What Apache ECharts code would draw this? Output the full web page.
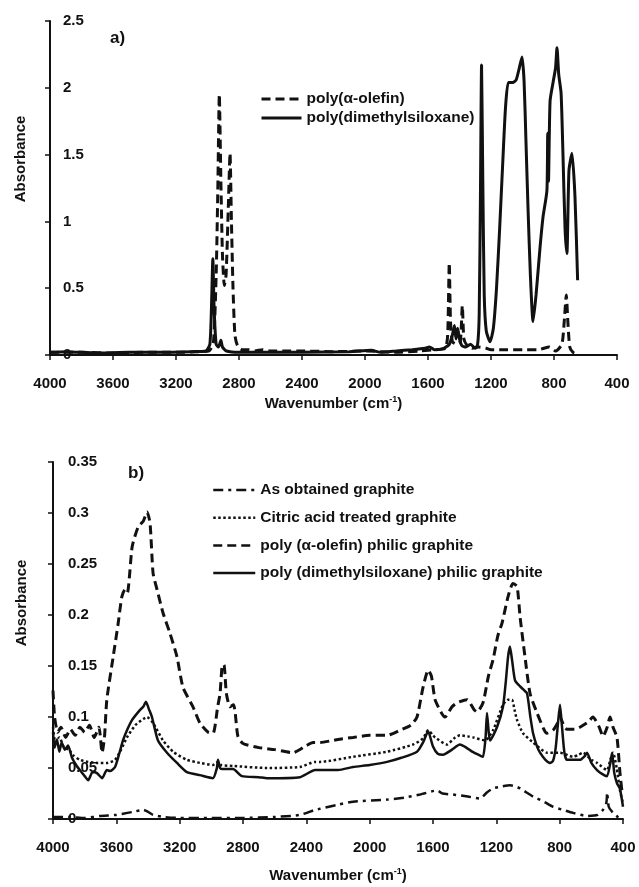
<!DOCTYPE html>
<html>
<head>
<meta charset="utf-8">
<script src="https://cdn.jsdelivr.net/npm/echarts@6/dist/echarts.min.js"></script>
<style>
  html, body { margin: 0; padding: 0; background: #fff; }
  #main { width: 639px; height: 887px; }
</style>
</head>
<body>
<div id="main"></div>
<script>
// panel a) pure oils, [wavenumber, absorbance]
var paoA = [
  [4000, 0.02], [3800, 0.02], [3600, 0.015], [3400, 0.02], [3200, 0.02], [3050, 0.025], [2990, 0.03],
  [2962, 0.1], [2945, 0.6], [2935, 1.2], [2925, 1.95], [2915, 1.3], [2905, 0.75], [2893, 0.52],
  [2882, 0.6], [2868, 1.1], [2857, 1.51], [2848, 1.0], [2838, 0.5], [2826, 0.15], [2810, 0.07],
  [2780, 0.04], [2740, 0.04], [2700, 0.03], [2650, 0.04], [2600, 0.03], [2500, 0.03], [2400, 0.03],
  [2200, 0.025], [2000, 0.03], [1800, 0.02], [1650, 0.03], [1550, 0.04], [1490, 0.05], [1475, 0.15],
  [1465, 0.69], [1457, 0.25], [1445, 0.1], [1420, 0.08], [1395, 0.1], [1382, 0.37], [1372, 0.12],
  [1350, 0.07], [1320, 0.05], [1280, 0.06], [1230, 0.05], [1200, 0.04], [1100, 0.04], [1000, 0.04],
  [900, 0.04], [830, 0.06], [790, 0.03], [750, 0.08], [735, 0.25], [722, 0.45], [712, 0.25],
  [700, 0.06], [680, 0.02], [660, 0.01]
];
var pdmsA = [
  [4000, 0.02], [3900, 0.025], [3700, 0.015], [3500, 0.02], [3300, 0.02], [3100, 0.025], [3010, 0.03],
  [2985, 0.08], [2975, 0.35], [2966, 0.72], [2958, 0.35], [2945, 0.08], [2930, 0.06], [2915, 0.11],
  [2905, 0.06], [2880, 0.03], [2800, 0.02], [2600, 0.02], [2400, 0.02], [2100, 0.025], [1960, 0.035],
  [1900, 0.02], [1800, 0.03], [1700, 0.04], [1620, 0.05], [1590, 0.06], [1560, 0.04], [1500, 0.05],
  [1465, 0.08], [1445, 0.15], [1432, 0.22], [1422, 0.12], [1412, 0.2], [1400, 0.12], [1385, 0.07],
  [1360, 0.06], [1330, 0.08], [1300, 0.05], [1285, 0.08], [1275, 0.3], [1267, 1.2], [1260, 2.17],
  [1252, 1.3], [1243, 0.45], [1230, 0.18], [1206, 0.1], [1185, 0.2], [1165, 0.5], [1145, 0.95],
  [1125, 1.45], [1108, 1.85], [1090, 2.04], [1060, 2.04], [1040, 2.06], [1020, 2.15], [1003, 2.23],
  [990, 2.05], [978, 1.6], [965, 1.1], [950, 0.6], [933, 0.25], [914, 0.45], [889, 0.8], [870, 1.03],
  [845, 1.23], [840, 1.66], [835, 1.3], [825, 1.9], [806, 2.04], [790, 2.15], [781, 2.3], [770, 2.1],
  [755, 1.96], [743, 1.5], [730, 0.95], [718, 0.76], [705, 1.38], [686, 1.51], [667, 1.19], [650, 0.56]
];

// panel b) graphite samples
var rawB = [
  [4000, 0.002], [3900, 0.002], [3800, 0.001], [3700, 0.003], [3600, 0.004], [3530, 0.006],
  [3494, 0.007], [3431, 0.009], [3400, 0.007], [3368, 0.004], [3300, 0.002], [3200, 0.001],
  [3000, 0.001], [2800, 0.001], [2600, 0.002], [2440, 0.004], [2345, 0.009], [2314, 0.01],
  [2200, 0.014], [2105, 0.017], [1890, 0.019], [1780, 0.021], [1682, 0.024], [1610, 0.027],
  [1575, 0.028], [1540, 0.025], [1474, 0.024], [1380, 0.022], [1303, 0.02], [1260, 0.026],
  [1221, 0.03], [1160, 0.032], [1114, 0.033], [1080, 0.032], [1050, 0.03], [968, 0.022],
  [900, 0.017], [842, 0.012], [780, 0.009], [716, 0.006], [627, 0.003], [560, 0.004], [526, 0.009],
  [505, 0.016], [500, 0.026], [490, 0.012], [463, 0.006], [440, 0.003], [419, 0.0], [400, 0.0]
];
var citB = [
  [4000, 0.09], [3985, 0.075], [3960, 0.08], [3930, 0.07], [3900, 0.068], [3870, 0.062], [3830, 0.058],
  [3780, 0.056], [3722, 0.055], [3660, 0.055], [3608, 0.058], [3570, 0.068], [3533, 0.08], [3480, 0.092],
  [3430, 0.098], [3406, 0.1], [3368, 0.094], [3305, 0.077], [3242, 0.066], [3154, 0.058], [3072, 0.055],
  [2990, 0.053], [2958, 0.056], [2940, 0.053], [2863, 0.052], [2648, 0.05], [2440, 0.051], [2345, 0.056],
  [2314, 0.056], [2105, 0.061], [1890, 0.066], [1726, 0.073], [1663, 0.079], [1631, 0.087], [1600, 0.082],
  [1587, 0.08], [1512, 0.073], [1460, 0.08], [1430, 0.082], [1380, 0.081], [1347, 0.08], [1271, 0.077],
  [1221, 0.087], [1158, 0.112], [1126, 0.117], [1101, 0.117], [1085, 0.107], [1069, 0.097], [1031, 0.084],
  [968, 0.075], [880, 0.065], [798, 0.065], [716, 0.061], [680, 0.063], [653, 0.065], [600, 0.058],
  [564, 0.055], [501, 0.048], [480, 0.058], [463, 0.065], [440, 0.05], [419, 0.028], [400, 0.015]
];
var paoB = [
  [4000, 0.126], [3990, 0.1], [3970, 0.085], [3950, 0.09], [3920, 0.08], [3890, 0.088], [3860, 0.082],
  [3830, 0.09], [3800, 0.085], [3770, 0.092], [3740, 0.08], [3710, 0.09], [3690, 0.065], [3675, 0.08],
  [3660, 0.117], [3620, 0.159], [3590, 0.19], [3565, 0.218], [3545, 0.225], [3530, 0.222], [3500, 0.267],
  [3463, 0.286], [3430, 0.292], [3406, 0.301], [3387, 0.29], [3368, 0.241], [3343, 0.225], [3305, 0.202],
  [3261, 0.182], [3217, 0.159], [3179, 0.129], [3116, 0.11], [3072, 0.094], [3020, 0.085], [2989, 0.084],
  [2960, 0.11], [2945, 0.123], [2930, 0.151], [2920, 0.151], [2905, 0.123], [2882, 0.11], [2860, 0.112],
  [2850, 0.105], [2832, 0.081], [2800, 0.074], [2700, 0.07], [2600, 0.068], [2484, 0.065], [2400, 0.072],
  [2358, 0.075], [2314, 0.075], [2200, 0.078], [2105, 0.08], [2000, 0.082], [1890, 0.082], [1808, 0.087],
  [1740, 0.092], [1701, 0.1], [1663, 0.129], [1630, 0.146], [1610, 0.14], [1587, 0.117], [1550, 0.105],
  [1524, 0.1], [1480, 0.11], [1448, 0.114], [1385, 0.117], [1340, 0.107], [1322, 0.105], [1284, 0.114],
  [1250, 0.14], [1221, 0.156], [1190, 0.18], [1164, 0.192], [1126, 0.218], [1095, 0.231], [1069, 0.228],
  [1050, 0.198], [1019, 0.159], [987, 0.123], [943, 0.104], [900, 0.088], [880, 0.084], [842, 0.087],
  [810, 0.095], [798, 0.1], [770, 0.09], [754, 0.088], [700, 0.088], [672, 0.09], [620, 0.095],
  [590, 0.1], [550, 0.09], [526, 0.081], [500, 0.09], [482, 0.1], [463, 0.09], [438, 0.08], [419, 0.045],
  [405, 0.025]
];
var pdmsB = [
  [4000, 0.085], [3990, 0.07], [3975, 0.078], [3960, 0.066], [3945, 0.075], [3925, 0.068], [3905, 0.072],
  [3880, 0.06], [3850, 0.052], [3830, 0.048], [3800, 0.042], [3778, 0.038], [3750, 0.046], [3722, 0.045],
  [3690, 0.04], [3660, 0.048], [3640, 0.047], [3608, 0.051], [3580, 0.065], [3558, 0.077], [3530, 0.088],
  [3501, 0.097], [3450, 0.107], [3430, 0.11], [3413, 0.115], [3395, 0.108], [3375, 0.1], [3337, 0.077],
  [3280, 0.065], [3217, 0.055], [3154, 0.046], [3072, 0.043], [2990, 0.04], [2965, 0.05], [2958, 0.058],
  [2945, 0.05], [2933, 0.049], [2863, 0.049], [2807, 0.042], [2700, 0.041], [2648, 0.04], [2440, 0.041],
  [2345, 0.048], [2314, 0.048], [2200, 0.048], [2105, 0.051], [2000, 0.053], [1890, 0.056], [1800, 0.06],
  [1701, 0.066], [1663, 0.075], [1631, 0.086], [1600, 0.071], [1570, 0.064], [1537, 0.063], [1480, 0.068],
  [1430, 0.073], [1390, 0.07], [1353, 0.066], [1300, 0.062], [1284, 0.061], [1268, 0.08], [1259, 0.104],
  [1248, 0.085], [1240, 0.077], [1196, 0.09], [1158, 0.11], [1140, 0.135], [1126, 0.159], [1114, 0.169],
  [1100, 0.155], [1082, 0.136], [1050, 0.13], [1030, 0.127], [1006, 0.123], [985, 0.1], [968, 0.084],
  [945, 0.072], [924, 0.065], [890, 0.058], [861, 0.055], [842, 0.057], [825, 0.07], [810, 0.095],
  [798, 0.112], [785, 0.09], [770, 0.065], [754, 0.058], [700, 0.058], [672, 0.058], [640, 0.062],
  [627, 0.065], [600, 0.055], [564, 0.048], [530, 0.044], [501, 0.042], [480, 0.055], [469, 0.065],
  [455, 0.045], [438, 0.035], [420, 0.03], [400, 0.012]
];

var namesA = ['poly(α-olefin)', 'poly(dimethylsiloxane)'];
var namesB = ['As obtained graphite', 'Citric acid treated graphite',
  'poly (α-olefin) philic graphite', 'poly (dimethylsiloxane) philic graphite'];

var FONT = '"Liberation Sans", Arial, sans-serif';
var INK = '#111';

function xAxisFor (idx, gap, margin) {
  return {
    gridIndex: idx,
    type: 'value',
    inverse: true,
    min: 400,
    max: 4000,
    interval: 400,
    axisLine: { lineStyle: { color: INK, width: 2 } },
    axisTick: { inside: false, length: 5, lineStyle: { color: INK, width: 1.5 } },
    axisLabel: {
      color: INK, fontFamily: FONT, fontWeight: 'bold', fontSize: 15, margin: margin,
      formatter: function (v) { return String(v) }
    },
    splitLine: { show: false },
    name: '{t|Wavenumber (cm}{s|-1}{t|)}',
    nameLocation: 'middle',
    nameGap: gap,
    nameTextStyle: {
      rich: {
        t: { color: INK, fontFamily: FONT, fontWeight: 'bold', fontSize: 15 },
        s: { color: INK, fontFamily: FONT, fontWeight: 'bold', fontSize: 9, padding: [0, 0, 8, 0] }
      }
    }
  }
}

function yAxisFor (idx, max, step, margin) {
  return {
    gridIndex: idx,
    type: 'value',
    min: 0,
    max: max,
    interval: step,
    axisLine: { show: true, lineStyle: { color: INK, width: 2 } },
    axisTick: { show: true, inside: false, length: 5, lineStyle: { color: INK, width: 1.5 } },
    axisLabel: {
      inside: true,
      margin: margin,
      color: INK,
      fontFamily: FONT,
      fontWeight: 'bold',
      fontSize: 15,
      formatter: function (v) { return String(+v.toFixed(2)) }
    },
    splitLine: { show: false }
  }
}

function line (name, data, idx, type, width) {
  return {
    name: name,
    type: 'line',
    xAxisIndex: idx,
    yAxisIndex: idx,
    data: data,
    symbol: 'none',
    showSymbol: false,
    smooth: 0.2,
    animation: false,
    itemStyle: { color: INK },
    lineStyle: { color: INK, width: width, type: type }
  }
}

var legendText = { color: INK, fontFamily: FONT, fontWeight: 'bold', fontSize: 15.5, lineHeight: 16 };

var option = {
  backgroundColor: '#fff',
  animation: false,
  grid: [
    { left: 50, top: 21, width: 567, height: 334 },
    { left: 53, top: 462, width: 570, height: 357 }
  ],
  xAxis: [xAxisFor(0, 40, 21), xAxisFor(1, 48, 21)],
  yAxis: [yAxisFor(0, 2.5, 0.5, 13), yAxisFor(1, 0.35, 0.05, 15)],
  legend: [
    {
      data: namesA,
      orient: 'vertical',
      left: 260,
      top: 91,
      padding: 0,
      itemWidth: 40,
      itemHeight: 14,
      itemGap: 3,
      itemStyle: { opacity: 0 },
      lineStyle: { width: 3 },
      textStyle: legendText
    },
    {
      data: namesB,
      orient: 'vertical',
      left: 212,
      top: 482,
      padding: 0,
      itemWidth: 42,
      itemHeight: 14,
      itemGap: 11.7,
      itemStyle: { opacity: 0 },
      lineStyle: { width: 2.5 },
      textStyle: legendText
    }
  ],
  graphic: [
    { type: 'text', left: 110, top: 30, style: { text: 'a)', fill: INK, font: 'bold 17px ' + FONT } },
    { type: 'text', left: 128, top: 465, style: { text: 'b)', fill: INK, font: 'bold 17px ' + FONT } },
    {
      type: 'text', x: 21, y: 159, rotation: Math.PI / 2,
      style: { text: 'Absorbance', fill: INK, font: 'bold 15px ' + FONT, align: 'center', verticalAlign: 'middle' }
    },
    {
      type: 'text', x: 22, y: 603, rotation: Math.PI / 2,
      style: { text: 'Absorbance', fill: INK, font: 'bold 15px ' + FONT, align: 'center', verticalAlign: 'middle' }
    }
  ],
  series: [
    line(namesA[0], paoA, 0, [9, 5], 3),
    line(namesA[1], pdmsA, 0, 'solid', 3),
    line(namesB[0], rawB, 1, [10, 5, 3, 5], 2.5),
    line(namesB[1], citB, 1, [2.5, 2.5], 2.5),
    line(namesB[2], paoB, 1, [9, 5], 3),
    line(namesB[3], pdmsB, 1, 'solid', 2.5)
  ]
}

var myChart = echarts.init(document.getElementById('main'))
myChart.setOption(option, true)
</script>
</body>
</html>
